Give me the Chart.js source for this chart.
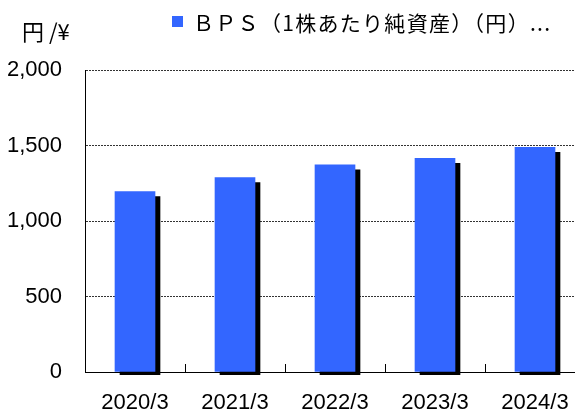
<!DOCTYPE html>
<html>
<head>
<meta charset="utf-8">
<script src="https://cdn.jsdelivr.net/npm/chart.js@4"></script>
<style>
    html, body { margin: 0; padding: 0; background: #fff; overflow: hidden; }
    #wrap { width: 575px; height: 414px; overflow: hidden; }
</style>
</head>
<body>
<div id="wrap"><canvas id="bpsChart" width="600" height="414"></canvas></div>
<script>
    // Data
    const categories = ['2020/3', '2021/3', '2022/3', '2023/3', '2024/3'];
    const bpsValues = [1195, 1287, 1372, 1415, 1488];
    const yTicks = [0, 500, 1000, 1500, 2000];
    const seriesLabel = 'ＢＰＳ（1株あたり純資産）（円）...';
    const unitLabel = '円 /¥';

    const colors = {
        bar: '#3366ff',
        shadow: '#000000',
        grid: '#333333',
        axis: '#000000',
        text: '#000000'
    };

    const tickFont = { family: "'Liberation Sans', Arial, sans-serif", size: 22 };
    const cjkFont = "'Noto Sans CJK JP', 'Noto Sans', sans-serif";

    // Hard black drop shadow behind the bars
    const barShadow = {
        id: 'barShadow',
        beforeDatasetsDraw(chart) {
            const ctx = chart.ctx;
            ctx.save();
            ctx.shadowColor = colors.shadow;
            ctx.shadowBlur = 0;
            ctx.shadowOffsetX = 5;
            ctx.shadowOffsetY = 5;
        },
        afterDatasetsDraw(chart) {
            chart.ctx.restore();
        }
    };

    // Small upward tick marks between categories, and header texts
    const extras = {
        id: 'extras',
        afterDatasetsDraw(chart) {
            const ctx = chart.ctx;
            const x = chart.scales.x;
            const area = chart.chartArea;
            ctx.save();
            ctx.strokeStyle = colors.axis;
            ctx.lineWidth = 1;
            ctx.beginPath();
            for (let i = 1; i < categories.length; i++) {
                const px = Math.round((x.getPixelForValue(i - 1) + x.getPixelForValue(i)) / 2) + 0.5;
                ctx.moveTo(px, area.bottom);
                ctx.lineTo(px, area.bottom - 8);
            }
            ctx.stroke();

            // legend
            ctx.fillStyle = colors.bar;
            ctx.fillRect(172, 16, 11, 11);
            ctx.fillStyle = colors.text;
            ctx.font = '21px ' + cjkFont;
            ctx.textBaseline = 'middle';
            ctx.textAlign = 'left';
            ctx.letterSpacing = '1.3px';
            ctx.fillText(seriesLabel, 193, 23);

            // unit
            ctx.letterSpacing = '0px';
            ctx.font = '22px ' + cjkFont;
            ctx.fillText(unitLabel, 22, 32);
            ctx.restore();
        }
    };

    new Chart(document.getElementById('bpsChart'), {
        type: 'bar',
        data: {
            labels: categories,
            datasets: [{
                label: seriesLabel,
                data: bpsValues,
                backgroundColor: colors.bar,
                borderWidth: 0,
                barThickness: 40,
                clip: { left: 10, top: 10, right: 10, bottom: 3 }
            }]
        },
        options: {
            responsive: false,
            animation: false,
            events: [],
            layout: {
                padding: { top: 70, right: 15, bottom: 0, left: 0 }
            },
            plugins: {
                legend: { display: false },
                tooltip: { enabled: false }
            },
            scales: {
                x: {
                    grid: { display: false, drawTicks: false },
                    border: { display: true, color: colors.axis, width: 1 },
                    ticks: {
                        color: colors.text,
                        font: tickFont,
                        padding: 18,
                        maxRotation: 0
                    },
                    afterFit(scale) { scale.height = 42; }
                },
                y: {
                    min: 0,
                    max: 2000,
                    afterBuildTicks(scale) {
                        scale.ticks = yTicks.map(v => ({ value: v }));
                    },
                    grid: {
                        drawTicks: false,
                        color: ctx => ctx.tick && ctx.tick.value === 0 ? 'rgba(0,0,0,0)' : colors.grid,
                        lineWidth: 1
                    },
                    border: { display: true, color: colors.axis, width: 1, dash: [2, 1] },
                    ticks: {
                        color: colors.text,
                        font: tickFont,
                        padding: 23,
                        callback: v => v.toLocaleString('en-US')
                    },
                    afterFit(scale) { scale.width = 85; }
                }
            }
        },
        plugins: [barShadow, extras]
    });
</script>
</body>
</html>
